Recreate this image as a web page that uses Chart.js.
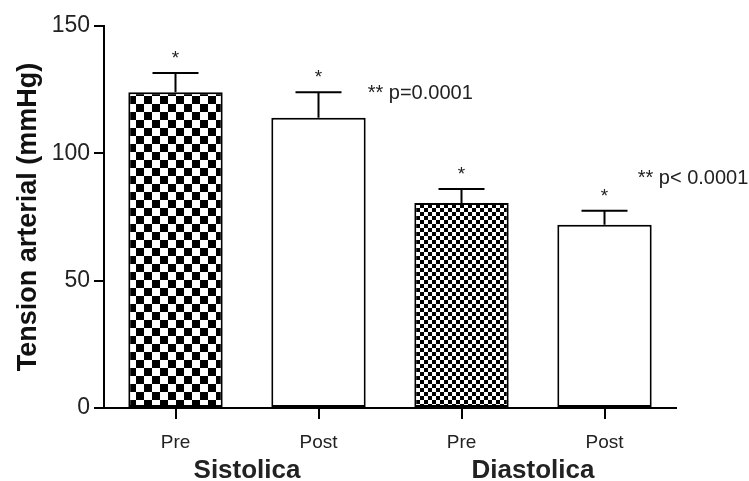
<!DOCTYPE html>
<html>
<head>
<meta charset="utf-8">
<script src="https://cdn.jsdelivr.net/npm/chart.js@4.4.1/dist/chart.umd.min.js"></script>
<style>
  html, body { margin: 0; padding: 0; background: #fff; }
  #wrap { width: 749px; height: 481px; position: relative; }
</style>
</head>
<body>
<div id="wrap"><canvas id="chart" width="749" height="481"></canvas></div>
<script>
// data
const categories = ['Pre', 'Post', 'Pre', 'Post'];
const groups = ['Sistolica', 'Diastolica'];
const means = [124, 114, 80.5, 72];
const sds = [7.5, 10, 5.5, 5.5];
const stars = ['*', '*', '*', '*'];
const yTicks = [0, 50, 100, 150];
const pNotes = ['** p=0.0001', '** p< 0.0001'];

const FONT = "'Liberation Sans', Arial, sans-serif";

const canvas = document.getElementById('chart');
const ctx = canvas.getContext('2d');

function checker(size) {
  const c = document.createElement('canvas');
  c.width = c.height = size * 2;
  const g = c.getContext('2d');
  g.fillStyle = '#fff';
  g.fillRect(0, 0, size * 2, size * 2);
  g.fillStyle = '#000';
  g.fillRect(0, 0, size, size);
  g.fillRect(size, size, size, size);
  return ctx.createPattern(c, 'repeat');
}

const fills = [checker(8), '#fff', checker(4), '#fff'];

// error bars, stars, p-values and group labels
const extras = {
  id: 'extras',
  afterDatasetsDraw(chart) {
    const { ctx } = chart;
    const x = chart.scales.x, y = chart.scales.y;
    const meta = chart.getDatasetMeta(0);
    ctx.save();
    ctx.strokeStyle = '#000';
    ctx.lineWidth = 2;
    ctx.fillStyle = '#222';
    means.forEach((m, i) => {
      const cx = meta.data[i].x;
      const y0 = y.getPixelForValue(m);
      const y1 = y.getPixelForValue(m + sds[i]);
      ctx.beginPath();
      ctx.moveTo(cx, y0);
      ctx.lineTo(cx, y1);
      ctx.moveTo(cx - 23, y1);
      ctx.lineTo(cx + 23, y1);
      ctx.stroke();
      ctx.font = '19px ' + FONT;
      ctx.textAlign = 'center';
      ctx.textBaseline = 'middle';
      ctx.fillText(stars[i], cx, y1 - 14);
    });

    ctx.font = '20px ' + FONT;
    ctx.textAlign = 'left';
    ctx.textBaseline = 'middle';
    const b1 = meta.data[1], b3 = meta.data[3];
    ctx.fillText(pNotes[0], b1.x + b1.width / 2 + 2, y.getPixelForValue(123.5));
    ctx.fillText(pNotes[1], b3.x + b3.width / 2 - 14, y.getPixelForValue(90));

    ctx.font = 'bold 26px ' + FONT;
    ctx.textAlign = 'center';
    ctx.textBaseline = 'middle';
    groups.forEach((g, k) => {
      const gx = (x.getPixelForValue(k * 2) + x.getPixelForValue(k * 2 + 1)) / 2;
      ctx.fillText(g, gx, 471);
    });
    ctx.restore();
  }
};

new Chart(canvas, {
  type: 'bar',
  data: {
    labels: categories,
    datasets: [{
      data: means,
      backgroundColor: fills,
      borderColor: '#000',
      borderWidth: 2,
      borderSkipped: false,
      categoryPercentage: 1,
      barPercentage: 0.66
    }]
  },
  options: {
    responsive: false,
    animation: false,
    devicePixelRatio: 1,
    layout: { padding: { left: 0, right: 73, top: 26, bottom: 0 } },
    plugins: { legend: { display: false }, tooltip: { enabled: false } },
    scales: {
      x: {
        grid: { display: true, drawOnChartArea: false, offset: false, tickLength: 11, color: '#000', lineWidth: 2 },
        border: { color: '#000', width: 2 },
        ticks: { color: '#222', font: { family: FONT, size: 19 }, padding: 12 },
        afterFit(s) { s.height = 73; }
      },
      y: {
        min: 0,
        max: 150,
        afterBuildTicks(s) { s.ticks = yTicks.map(v => ({ value: v })); },
        grid: { drawOnChartArea: false, tickLength: 10, color: '#000', lineWidth: 2 },
        border: { color: '#000', width: 2 },
        ticks: { color: '#222', font: { family: FONT, size: 23 }, padding: 4 },
        title: { display: true, text: 'Tension arterial (mmHg)', color: '#111', font: { family: FONT, size: 27, weight: 'bold' }, padding: { top: 12, bottom: 2 } },
        afterFit(s) { s.width = 104; }
      }
    }
  },
  plugins: [extras]
});
</script>
</body>
</html>
